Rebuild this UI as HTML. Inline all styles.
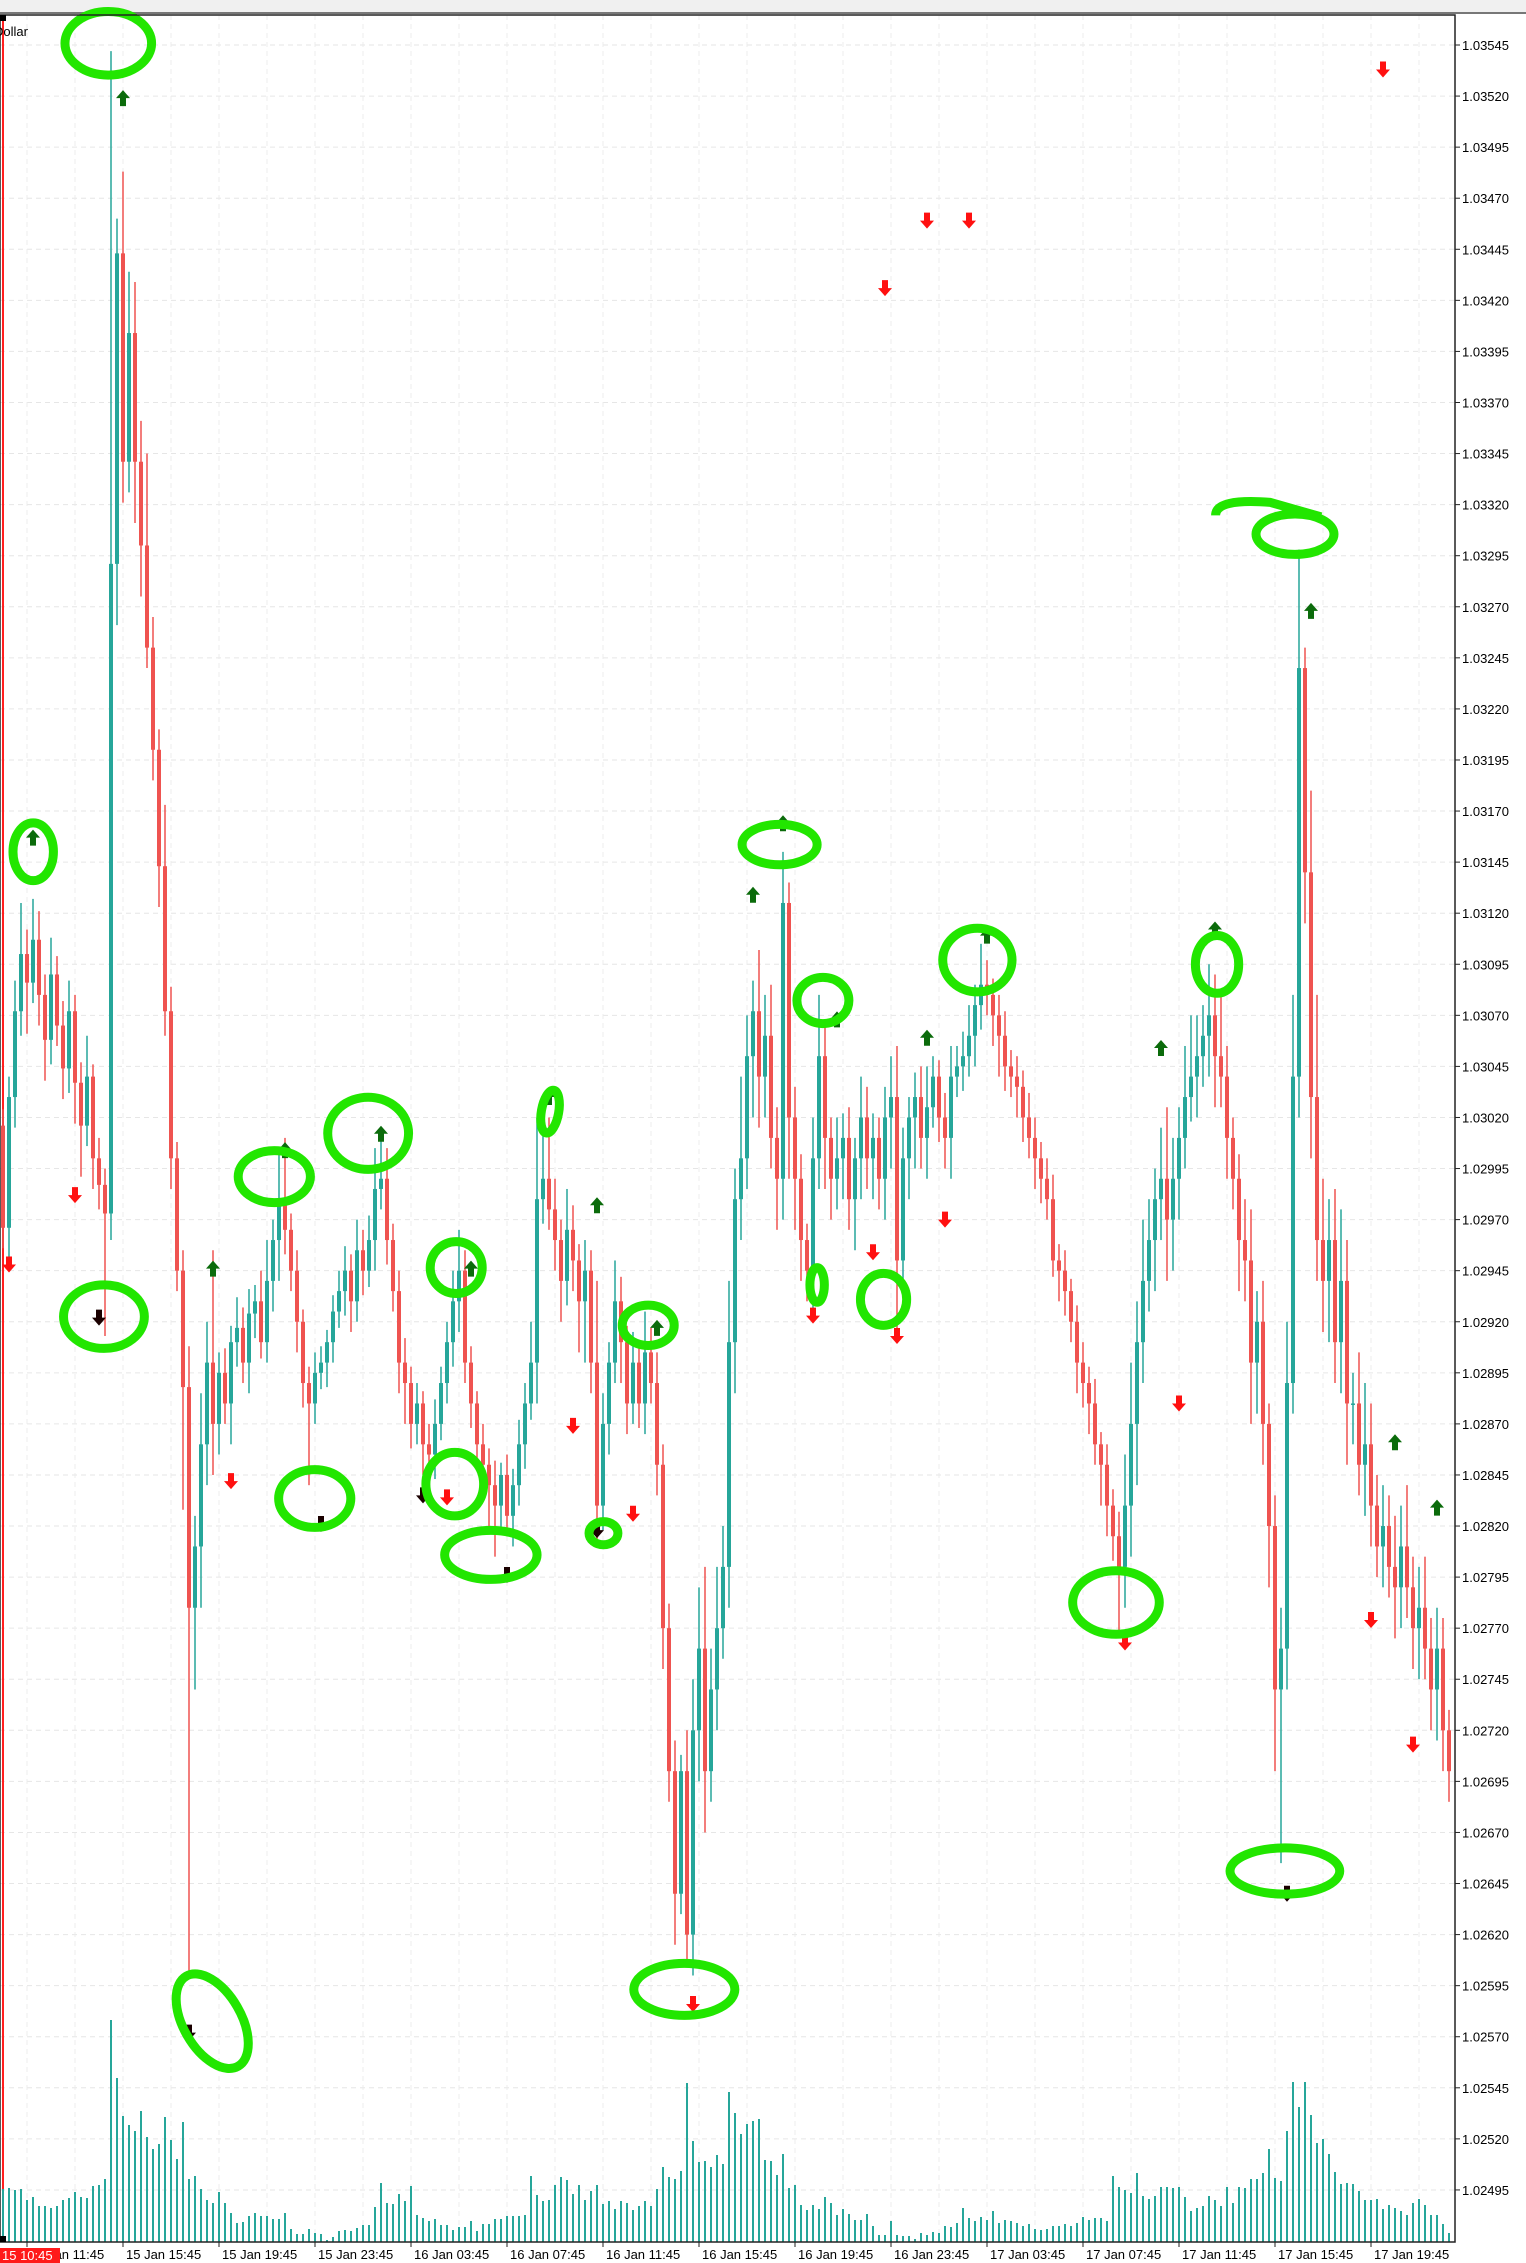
<!DOCTYPE html>
<html><head><meta charset="utf-8"><style>
html,body{margin:0;padding:0;background:#fff;}
svg{display:block;font-family:"Liberation Sans",sans-serif;}
</style></head><body>
<svg id="chart" width="1526" height="2263" viewBox="0 0 1526 2263" xmlns="http://www.w3.org/2000/svg">
<rect x="0" y="0" width="1526" height="13" fill="#f0f0f0"/>
<line x1="0" y1="13" x2="1526" y2="13" stroke="#777" stroke-width="2"/>
<g id="grid"></g>
<g id="vol"></g>
<g id="candles"></g>
<g id="signals"></g>
<g id="marks"></g>
<g id="axes"></g>
</svg>
<script>
const closes=[2966,3030,3072,3100,3086,3107,3080,3058,3090,3065,3044,3072,3037,3016,3040,3000,2987,2973,
3291,3443,3341,3404,3341,3300,3250,3200,3143,3072,3000,2945,2888,2780,2810,2860,2900,2870,2895,2880,
2910,2917,2900,2924,2930,2910,2940,2960,2980,2965,2945,2920,2890,2880,2895,2900,2910,2925,2935,2945,2930,2955,2945,2960,2985,
2990,2960,2935,2900,2890,2870,2880,2860,2855,2870,2890,2910,2930,2945,2900,2880,2860,2850,2840,2830,2845,2825,
2840,2860,2880,2900,2980,2990,2975,2960,2940,2965,2950,2930,2945,2900,2830,2870,2900,2930,2910,2880,2900,2880,2905,2890,
2850,2770,2700,2640,2700,2620,2720,2760,2700,2740,2770,2800,2910,2980,3000,3050,3072,3040,3060,3010,2990,3125,3020,
2990,2960,2945,3000,3050,3010,2990,3000,3010,2980,3000,3020,3000,3010,2990,3020,3030,2950,
3000,3020,3030,3010,3025,3040,3020,3010,3040,3045,3050,3060,3075,3085,3080,3070,3060,3045,
3040,3035,3020,3010,3000,2990,2980,2950,2945,2935,2920,2900,2890,2880,2860,2850,2830,2815,2800,
2830,2870,2910,2940,2960,2980,2990,2970,2990,3010,3030,3040,3050,3060,3070,3050,3040,3010,2990,
2960,2950,2900,2920,2870,2820,2740,2760,2890,3040,3240,3140,3030,2960,2940,
2960,2910,2940,2880,2880,2850,2860,2830,2810,2820,2800,2790,2810,2790,2770,2780,2760,2740,2760,2720,2700];
const firstOpen=3016;
const upWick=[8,10,15,25,12,20,14,10,18,9,12,15,8,10,20,6,10,8,251,17,
40,30,25,20,45,15,10,30,12,8,10,20,15,25,20,55,10,12,8,15,
10,12,8,15,20,10,25,30,8,10,6,8,10,8,6,8,10,12,8,15,
10,12,20,25,15,8,10,12,8,10,6,10,12,8,10,15,20,10,8,6,
10,8,12,6,10,8,12,10,20,40,25,30,15,10,20,12,8,15,10,40,
15,10,20,12,8,15,10,20,12,15,10,12,15,8,20,25,30,40,20,30,
20,30,15,40,20,15,30,20,25,15,25,10,15,12,8,20,30,15,10,20,
12,15,10,20,15,12,10,15,20,25,15,10,12,15,20,10,8,12,15,10,
12,15,10,20,12,8,10,12,8,10,8,12,10,8,10,12,8,10,6,8,
10,8,12,6,10,8,12,25,30,20,30,20,15,25,35,20,15,25,30,20,
15,25,20,30,15,10,12,20,25,15,20,10,15,20,30,40,58,10,40,50,
30,20,25,35,20,15,25,30,20,15,20,15,25,20,30,15,20,25,15,20,15,10];
const downWick=[10,20,15,12,25,10,15,20,12,10,15,12,20,25,10,15,12,60,13,30,
20,15,30,25,10,15,20,12,15,10,60,178,40,30,20,25,15,10,20,12,
10,15,12,8,10,15,20,12,10,15,12,40,10,8,12,10,8,12,15,10,
12,8,15,10,12,10,15,20,12,10,15,10,12,8,10,12,15,10,12,10,
15,20,25,12,10,15,10,12,8,20,12,10,15,20,12,15,25,30,15,20,
12,15,10,20,15,10,12,15,10,15,20,15,25,10,14,20,25,30,15,20,
15,20,25,20,15,30,25,20,15,25,20,30,25,20,15,20,15,25,20,15,
20,15,25,20,15,20,15,20,25,40,15,20,25,15,20,10,12,15,20,10,
12,10,15,12,10,15,20,12,10,15,12,10,15,12,10,8,15,12,10,15,
12,15,10,20,15,12,35,20,25,30,20,15,25,20,30,25,20,15,12,20,
15,20,25,15,20,15,25,20,30,25,20,30,40,85,20,15,20,25,30,20,
25,30,20,25,30,20,15,25,20,15,20,15,25,20,15,20,25,15,20,25,20,15];
const volumes=[53,54,52,53,42,45,36,36,34,36,42,44,50,45,44,56,57,63,222,164,
126,117,111,131,105,93,98,125,102,83,120,63,66,53,42,39,50,39,29,19,
20,26,29,26,26,23,23,29,13,8,8,13,9,8,2,5,11,12,11,14,
17,17,35,59,39,38,48,41,56,27,24,21,23,17,17,12,15,15,21,11,
18,18,23,23,26,26,26,27,66,47,41,42,57,65,62,48,57,42,51,57,
38,41,33,41,39,32,36,41,36,53,75,65,63,71,159,101,80,81,75,87,
78,150,129,108,118,121,123,82,81,67,88,54,57,37,32,37,33,45,39,27,
33,28,22,22,28,16,7,7,21,7,6,6,3,9,7,10,9,16,15,19,
34,24,21,25,22,31,19,22,21,19,16,18,13,12,13,16,16,18,16,19,
25,22,24,24,21,66,55,52,49,69,46,43,46,55,55,54,55,45,31,34,
36,46,42,36,55,39,55,54,63,63,69,93,64,61,111,160,135,160,127,99,
103,88,70,58,59,58,51,42,42,43,33,37,34,31,27,39,43,37,27,27,18,9];
const signalBars=[20,5,35,47,63,78,91,99,109,125,130,139,154,164,193,202,218,232,239,
1,12,16,31,38,53,70,74,84,95,99,105,115,135,145,147,149,154,157,161,187,196,214,228,230,235];
const signalPrices=[3519,3157,2946,3004,3012,2946,3030,2977,2917,3129,3164,3068,3059,3109,3054,3112,3268,2861,2829,
2948,2982,2922,2572,2842,2821,2835,2834,2796,2869,2818,2826,2586,2923,2954,3426,2913,3459,2970,3459,2763,2880,2640,2774,3533,2713];
const signalTypes=["up","up","up","up","up","up","up","up","up","up","up","up","up","up","up","up","up","up","up",
"dn","dn","dnk","dnk","dn","dnk","dnk","dn","dnk","dn","dnk","dn","dn","dn","dn","dn","dn","dn","dn","dn","dn","dn","dnk","dn","dn","dn"];
const timeLabels=["15 Jan 11:45","15 Jan 15:45","15 Jan 19:45","15 Jan 23:45","16 Jan 03:45","16 Jan 07:45","16 Jan 11:45","16 Jan 15:45","16 Jan 19:45","16 Jan 23:45","17 Jan 03:45","17 Jan 07:45","17 Jan 11:45","17 Jan 15:45","17 Jan 19:45"];
const tickTop=3545, tickStep=25, tickCount=43;

const NS="http://www.w3.org/2000/svg";
const PL=0,PR=1455,PT=15,PB=2242;
function yP(v){return 45+(tickTop-v)/tickStep*51.07;}
function xB(i){return 3+6*i;}
function yV(v){return PB-v;}
function mk(tag,attrs,parent){const e=document.createElementNS(NS,tag);for(const k in attrs)e.setAttribute(k,attrs[k]);parent.appendChild(e);return e;}
const grid=document.getElementById('grid'),vol=document.getElementById('vol'),cg=document.getElementById('candles'),sg=document.getElementById('signals'),mg=document.getElementById('marks'),ax=document.getElementById('axes');

// grid
for(let k=0;k<tickCount;k++){const y=yP(tickTop-k*tickStep);
 const l=mk('line',{x1:PL,x2:PR,y1:y,y2:y,stroke:'#e6e6e6','stroke-dasharray':'5,4'},grid);
 
 }
for(let x=27;x<PR;x+=48){const l=mk('line',{x1:x,x2:x,y1:PT,y2:PB,stroke:'#ececec','stroke-dasharray':'5,4'},grid);
 
 }

// period separator
const sep=mk('line',{x1:3,x2:3,y1:PT,y2:PB,stroke:'#ff2020','stroke-width':2},grid);



// volumes
volumes.forEach((v,i)=>{const r=mk('rect',{x:xB(i)-1,y:yV(v),width:2,height:v,fill:'#26a69a'},vol);
 
 });

// candles
closes.forEach((c,i)=>{const o=i===0?firstOpen:closes[i-1];const bull=c>=o;const col=bull?'#26a69a':'#ef5350';
 const top=Math.max(o,c),bot=Math.min(o,c);const x=xB(i);
 const g=mk('g',{},cg);
 
 
 mk('line',{x1:x,x2:x,y1:yP(top+upWick[i]),y2:yP(bot-downWick[i]),stroke:col,'stroke-width':1.5},g);
 const y1=yP(top),y2=yP(bot);
 mk('rect',{x:x-2,y:y1,width:4,height:Math.max(1.5,y2-y1),fill:col},g);});

// signals
signalBars.forEach((b,i)=>{const x=xB(b),y=yP(signalPrices[i]);const t=signalTypes[i];
 let d,col;
 if(t==='up'){col='#0b6b0b';d=`M${x-7},${y} L${x},${y-8} L${x+7},${y} L${x+3},${y} L${x+3},${y+8} L${x-3},${y+8} L${x-3},${y} Z`;}
 else{col=t==='dnk'?'#1a0000':'#ff1010';d=`M${x-7},${y} L${x},${y+8} L${x+7},${y} L${x+3},${y} L${x+3},${y-8} L${x-3},${y-8} L${x-3},${y} Z`;}
 const p=mk('path',{d:d,fill:col},sg);
 
 });

// hand-drawn green circles (annotation, displayed coords scaled)
const S=1.4437;
const circles=[[75,30,30,22,0],[23,590,14,20,0],[72,912,28,22,0],[147,1400,20,36,-30],[190,815,25,18,0],[255,785,28,25,0],[218,1038,25,20,0],[316,878,18,18,0],[315,1028,20,22,0],[340,1077,32,17,0],[381,770,6,15,10],[418,1062,10,8,0],[449,918,18,14,0],[474,1378,35,18,0],[540,585,26,14,0],[570,693,18,16,0],[566,890,5,12,0],[612,900,16,18,0],[677,665,24,22,0],[773,1110,30,22,0],[843,668,15,20,0],[897,370,27,14,0],[890,1296,38,16,0]];
circles.forEach(c=>{const e=mk('ellipse',{cx:c[0]*S,cy:c[1]*S,rx:c[2]*S,ry:c[3]*S,fill:'none',stroke:'#22e600','stroke-width':9,transform:`rotate(${c[4]} ${c[0]*S} ${c[1]*S})`},mg);
 
 });
mk('path',{d:`M${842*S},${357*S} Q${842*S},${345*S} ${880*S},${348*S} L${915*S},${358*S}`,fill:'none',stroke:'#22e600','stroke-width':9},mg);

// axes
mk('rect',{x:0,y:PT,width:PR,height:PB-PT,fill:'none',stroke:'#222','stroke-width':1.5},ax);
const ttl=mk('text',{x:-6,y:36,'font-size':13,fill:'#000'},ax);ttl.textContent='Dollar';


for(let k=0;k<tickCount;k++){const v=tickTop-k*tickStep;const y=yP(v);
 mk('line',{x1:PR,x2:PR+5,y1:y,y2:y,stroke:'#222'},ax);
 const t=mk('text',{x:PR+7,y:y+5,'font-size':13,fill:'#000'},ax);
 t.textContent=(1+v/1e5).toFixed(5);
 
 }
timeLabels.forEach((s,k)=>{const x=27+96*k;
 mk('line',{x1:x,x2:x,y1:PB,y2:PB+5,stroke:'#222'},ax);
 const t=mk('text',{x:x+3,y:2259,'font-size':13,fill:'#000'},ax);t.textContent=s;
 
 });
const rb=mk('rect',{x:0,y:2248,width:60,height:15,fill:'#ff1a1a'},ax);


const rt=mk('text',{x:2,y:2260,'font-size':13,fill:'#fff'},ax);rt.textContent='15 10:45';
mk('rect',{x:0,y:2236,width:6,height:6,fill:'#000'},ax);
mk('rect',{x:0,y:15,width:6,height:6,fill:'#000'},ax);
</script>
</body></html>
